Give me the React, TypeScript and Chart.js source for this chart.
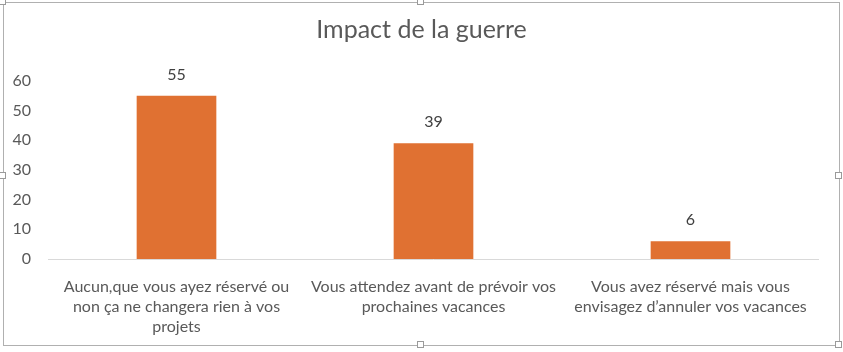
import React, { useEffect, useRef } from "react";
import { Chart, registerables } from "chart.js";

Chart.register(...registerables);

const TITLE = "Impact de la guerre";
const categories: string[][] = [
  ["Aucun,que vous ayez réservé ou", "non ça ne changera rien à vos", "projets"],
  ["Vous attendez avant de prévoir vos", "prochaines vacances"],
  ["Vous avez réservé mais vous", "envisagez d\u2019annuler vos vacances"],
];
const values = [55, 39, 6];
const yTicks = { min: 0, max: 60, step: 10 };

const FONT = "Lato, 'Liberation Sans', sans-serif";
const TEXT = "#595959";

const decorPlugin = {
  id: "decor",
  afterDatasetsDraw(chart: any) {
    const { ctx, chartArea } = chart;
    const yScale = chart.scales.y;
    ctx.save();
    const y0 = Math.round(yScale.getPixelForValue(0)) + 0.5;
    ctx.strokeStyle = "#d9d9d9";
    ctx.lineWidth = 1;
    ctx.beginPath();
    ctx.moveTo(chartArea.left, y0);
    ctx.lineTo(chartArea.right, y0);
    ctx.stroke();
    ctx.fillStyle = "#404040";
    ctx.font = `16px ${FONT}`;
    ctx.textAlign = "center";
    ctx.textBaseline = "middle";
    const meta = chart.getDatasetMeta(0);
    meta.data.forEach((bar: any, i: number) => {
      ctx.fillText(String(values[i]), bar.x, bar.y - 21);
    });
    ctx.fillStyle = TEXT;
    ctx.font = `25px ${FONT}`;
    ctx.fillText(TITLE, chart.width / 2, 30);
    ctx.restore();
  },
};

export default function App() {
  const ref = useRef<HTMLCanvasElement | null>(null);
  useEffect(() => {
    if (!ref.current) return;
    const chart = new Chart(ref.current, {
      type: "bar",
      data: {
        labels: categories,
        datasets: [
          {
            data: values,
            backgroundColor: "#E07132",
            borderWidth: 0,
            barPercentage: 0.31,
            categoryPercentage: 1,
          },
        ],
      },
      options: {
        animation: false,
        responsive: false,
        maintainAspectRatio: false,
        layout: { padding: { top: 81, right: 24, bottom: 0, left: 0 } },
        plugins: {
          legend: { display: false },
          title: { display: false },
          tooltip: { enabled: false },
        },
        scales: {
          x: {
            grid: { display: false },
            border: { display: false },
            ticks: {
              color: TEXT,
              font: { family: FONT, size: 16, lineHeight: "20px" },
              padding: 10,
              maxRotation: 0,
              autoSkip: false,
            },
            afterFit: (s: any) => {
              s.height = 352 - 259;
            },
          },
          y: {
            min: yTicks.min,
            max: yTicks.max,
            grid: { display: false },
            border: { display: false },
            ticks: {
              stepSize: yTicks.step,
              color: TEXT,
              font: { family: FONT, size: 16 },
              padding: 9,
            },
            afterFit: (s: any) => {
              s.width = 48;
            },
          },
        },
      },
      plugins: [decorPlugin],
    });
    return () => chart.destroy();
  }, []);

  const handle = (left: number, top: number): React.CSSProperties => ({
    position: "absolute",
    left: left - 4,
    top: top - 4,
    width: 7,
    height: 7,
    background: "#fff",
    border: "1px solid #9a9a9a",
    boxSizing: "border-box",
  });

  return (
    <div style={{ position: "fixed", left: 0, top: 0, width: 843, height: 352, background: "#fff", overflow: "hidden" }}>
      <canvas ref={ref} width={843} height={352} style={{ position: "absolute", left: 0, top: 0, width: 843, height: 352 }} />
      <div
        style={{
          position: "absolute",
          left: 3,
          top: 2,
          width: 837,
          height: 344,
          border: "1px solid #b0b0b0",
          boxSizing: "border-box",
          pointerEvents: "none",
        }}
      />
      <div style={handle(421, 2)} />
      <div style={handle(421, 345)} />
      <div style={handle(3, 176)} />
      <div style={handle(839, 176)} />
      <div style={handle(3, 2)} />
      <div style={handle(839, 345)} />
    </div>
  );
}
